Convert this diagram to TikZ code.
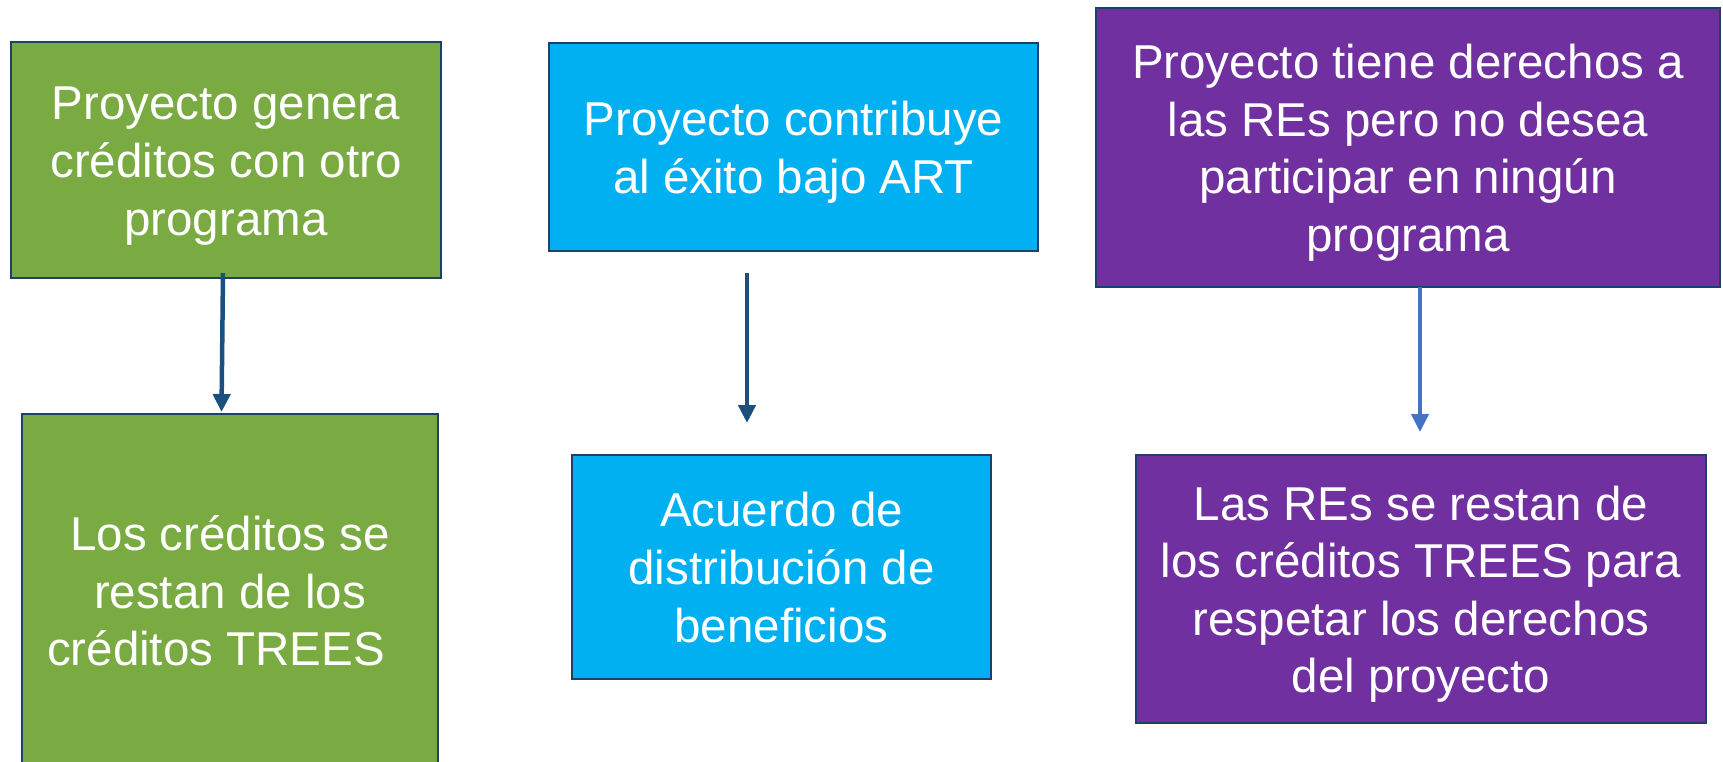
\documentclass[tikz,border=0pt]{standalone}
\usepackage{fontspec}
\setmainfont{Liberation Sans}
\usetikzlibrary{arrows.meta}
\definecolor{gfill}{HTML}{7AAB43}
\definecolor{bfill}{HTML}{00B0F0}
\definecolor{pfill}{HTML}{7030A0}
\definecolor{edge}{HTML}{1F4068}
\definecolor{arrdark}{HTML}{1B4F7E}
\definecolor{arrlight}{HTML}{4472C4}
\newcommand\tstr{\rule{0pt}{45pt}}
\newcommand\bstr{\rule[-10pt]{0pt}{10pt}}
\tikzset{
  box/.style={draw=edge, line width=2.5pt, rectangle, inner sep=0pt, align=center,
    text=white, font=\fontsize{47.5}{57.6}\selectfont},
  arr/.style={-{Triangle[length=18pt,width=17pt]}, line width=4.5pt, draw=arrdark},
  arrl/.style={-{Triangle[length=18pt,width=17pt]}, line width=4pt, draw=arrlight}
}
\begin{document}
\begin{tikzpicture}[x=1pt,y=-1pt]
\useasboundingbox (0,0) rectangle (1723,761);
% top row
\node[box, fill=gfill, minimum width=430pt, minimum height=236pt] (g1) at (226,160)
  {\tstr Proyecto genera\\créditos con otro\\programa\bstr};
\node[box, fill=bfill, minimum width=489pt, minimum height=208pt] (b1) at (793.5,147)
  {\tstr Proyecto contribuye\\al éxito bajo ART\bstr};
\node[box, fill=pfill, minimum width=624pt, minimum height=279pt] (p1) at (1408,147.5)
  {\tstr Proyecto tiene derechos a\\las REs pero no desea\\participar en ningún\\programa\bstr};
% bottom row
\node[box, fill=gfill, minimum width=416pt, minimum height=353pt] (g2) at (230,590.5)
  {\tstr Los créditos se\\restan de los\\créditos TREES\hspace*{28pt}\bstr};
\node[box, fill=bfill, minimum width=419pt, minimum height=224pt] (b2) at (781.5,567)
  {\tstr Acuerdo de\\distribución de\\beneficios\bstr};
\node[box, fill=pfill, minimum width=570pt, minimum height=268pt] (p2) at (1421,589)
  {\tstr Las REs se restan de\\los créditos TREES para\\respetar los derechos\\del proyecto\bstr};
% arrow end points
\coordinate (ga) at (223,273);
\coordinate (gb) at (221.5,412);
\coordinate (ba) at (747,273);
\coordinate (bb) at (747,423);
\coordinate (pa) at (1420,287);
\coordinate (pb) at (1420,432);
\draw[arr] (ga) -- (gb);
\draw[arr] (ba) -- (bb);
\draw[arrl] (pa) -- (pb);
\end{tikzpicture}
\end{document}
